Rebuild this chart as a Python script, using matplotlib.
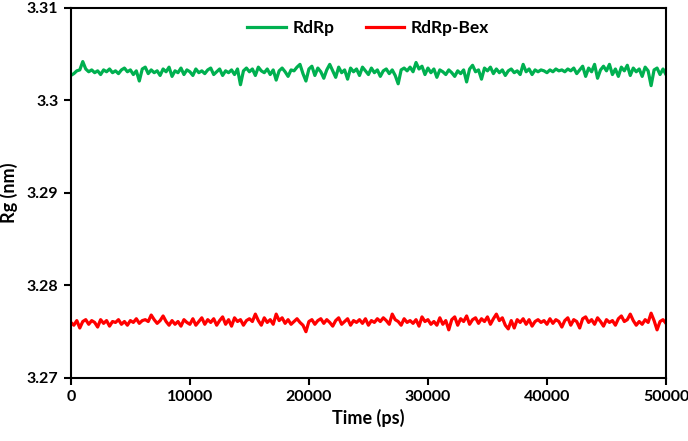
import numpy as np
import matplotlib.pyplot as plt

plt.rcParams['font.family'] = ['Lato', 'DejaVu Sans']

# time axis (ps), one frame every 250 ps
time_ps = np.arange(0, 50001, 250)

# radius of gyration (nm)
rg_rdrp = [
    3.3027, 3.3029, 3.3032, 3.3033, 3.3042, 3.3034, 3.3031, 3.3033, 3.3030, 3.3032,
    3.3028, 3.3033, 3.3031, 3.3034, 3.3030, 3.3032, 3.3029, 3.3033, 3.3035, 3.3031,
    3.3033, 3.3028, 3.3032, 3.3021, 3.3034, 3.3036, 3.3029, 3.3033, 3.3030, 3.3032,
    3.3027, 3.3034, 3.3031, 3.3036, 3.3026, 3.3032, 3.3030, 3.3035, 3.3028, 3.3033,
    3.3031, 3.3027, 3.3034, 3.3030, 3.3032, 3.3029, 3.3033, 3.3035, 3.3028, 3.3031,
    3.3034, 3.3027, 3.3032, 3.3030, 3.3033, 3.3028, 3.3034, 3.3017, 3.3032, 3.3035,
    3.3031, 3.3034, 3.3027, 3.3036, 3.3032, 3.3030, 3.3034, 3.3028, 3.3033, 3.3022,
    3.3032, 3.3035, 3.3031, 3.3026, 3.3033, 3.3032, 3.3036, 3.3039, 3.3029, 3.3021,
    3.3034, 3.3037, 3.3027, 3.3035, 3.3031, 3.3024, 3.3033, 3.3039, 3.3032, 3.3025,
    3.3036, 3.3030, 3.3033, 3.3023, 3.3035, 3.3031, 3.3034, 3.3027, 3.3036, 3.3032,
    3.3028, 3.3035, 3.3030, 3.3033, 3.3026, 3.3032, 3.3034, 3.3029, 3.3033, 3.3027,
    3.3018, 3.3033, 3.3035, 3.3032, 3.3036, 3.3031, 3.3041, 3.3034, 3.3037, 3.3028,
    3.3035, 3.3030, 3.3034, 3.3025, 3.3033, 3.3031, 3.3028, 3.3033, 3.3030, 3.3026,
    3.3032, 3.3029, 3.3033, 3.3020, 3.3034, 3.3038, 3.3031, 3.3033, 3.3023, 3.3035,
    3.3032, 3.3036, 3.3029, 3.3034, 3.3030, 3.3033, 3.3027, 3.3032, 3.3034, 3.3030,
    3.3032, 3.3028, 3.3039, 3.3031, 3.3034, 3.3028, 3.3033, 3.3031, 3.3033, 3.3032,
    3.3030, 3.3033, 3.3031, 3.3034, 3.3032, 3.3033, 3.3031, 3.3034, 3.3032, 3.3035,
    3.3029, 3.3033, 3.3037, 3.3026, 3.3035, 3.3031, 3.3039, 3.3024, 3.3033, 3.3037,
    3.3032, 3.3039, 3.3028, 3.3034, 3.3026, 3.3036, 3.3032, 3.3038, 3.3027, 3.3035,
    3.3031, 3.3034, 3.3026, 3.3036, 3.3032, 3.3016, 3.3033, 3.3035, 3.3028, 3.3034,
    3.3028,
]

rg_rdrp_bex = [
    3.2760, 3.2757, 3.2762, 3.2754, 3.2761, 3.2763, 3.2758, 3.2762, 3.2760, 3.2755,
    3.2763, 3.2759, 3.2762, 3.2756, 3.2761, 3.2760, 3.2763, 3.2758, 3.2761, 3.2757,
    3.2762, 3.2760, 3.2764, 3.2759, 3.2762, 3.2763, 3.2761, 3.2768, 3.2763, 3.2759,
    3.2762, 3.2767, 3.2761, 3.2757, 3.2762, 3.2758, 3.2761, 3.2756, 3.2763, 3.2760,
    3.2758, 3.2764, 3.2757, 3.2761, 3.2765, 3.2758, 3.2763, 3.2760, 3.2764, 3.2757,
    3.2762, 3.2766, 3.2758, 3.2763, 3.2756, 3.2765, 3.2761, 3.2763, 3.2757, 3.2762,
    3.2764, 3.2761, 3.2769, 3.2762, 3.2757, 3.2765, 3.2760, 3.2763, 3.2758, 3.2769,
    3.2762, 3.2765, 3.2759, 3.2763, 3.2758, 3.2761, 3.2764, 3.2760, 3.2757, 3.2750,
    3.2761, 3.2763, 3.2758, 3.2762, 3.2764, 3.2759, 3.2763, 3.2760, 3.2756, 3.2762,
    3.2765, 3.2758, 3.2761, 3.2764, 3.2757, 3.2762, 3.2760, 3.2763, 3.2759, 3.2764,
    3.2757, 3.2762, 3.2760, 3.2764, 3.2761, 3.2765, 3.2762, 3.2758, 3.2769, 3.2763,
    3.2761, 3.2757, 3.2764, 3.2760, 3.2762, 3.2759, 3.2763, 3.2756, 3.2766, 3.2761,
    3.2763, 3.2758, 3.2761, 3.2757, 3.2765, 3.2758, 3.2762, 3.2752, 3.2763, 3.2766,
    3.2757, 3.2764, 3.2761, 3.2767, 3.2758, 3.2763, 3.2765, 3.2759, 3.2764, 3.2761,
    3.2766, 3.2758, 3.2764, 3.2769, 3.2762, 3.2765, 3.2757, 3.2753, 3.2762, 3.2754,
    3.2763, 3.2760, 3.2764, 3.2758, 3.2763, 3.2756, 3.2761, 3.2763, 3.2760, 3.2762,
    3.2758, 3.2764, 3.2759, 3.2763, 3.2761, 3.2755, 3.2762, 3.2765, 3.2757, 3.2763,
    3.2761, 3.2754, 3.2764, 3.2766, 3.2760, 3.2763, 3.2758, 3.2765, 3.2761, 3.2756,
    3.2763, 3.2760, 3.2762, 3.2757, 3.2764, 3.2767, 3.2761, 3.2763, 3.2769, 3.2762,
    3.2757, 3.2761, 3.2758, 3.2763, 3.2760, 3.2770, 3.2762, 3.2752, 3.2761, 3.2763,
    3.2759,
]

x_ticks = [0, 10000, 20000, 30000, 40000, 50000]
y_ticks = [3.27, 3.28, 3.29, 3.30, 3.31]
y_tick_labels = ['3.27', '3.28', '3.29', '3.3', '3.31']

fig = plt.figure(figsize=(6.88, 4.41), dpi=100)
ax = fig.add_axes([0.103, 0.143, 0.865, 0.839])

ax.plot(time_ps, rg_rdrp, color='#00B050', lw=2.3, label='RdRp')
ax.plot(time_ps, rg_rdrp_bex, color='#FF0000', lw=2.3, label='RdRp-Bex')

ax.set_xlim(0, 50000)
ax.set_ylim(3.27, 3.31)
ax.set_xticks(x_ticks)
ax.set_xticklabels([str(t) for t in x_ticks])
ax.set_yticks(y_ticks)
ax.set_yticklabels(y_tick_labels)

for s in ax.spines.values():
    s.set_linewidth(1.5)
    s.set_color('black')
ax.tick_params(direction='out', length=5, width=1.5, labelsize=11.5, pad=4)
for lab in ax.get_xticklabels() + ax.get_yticklabels():
    lab.set_fontweight('bold')

ax.set_xlabel('Time (ps)', fontsize=13, fontweight='bold', labelpad=3)
ax.set_ylabel('Rg (nm)', fontsize=13, fontweight='bold', labelpad=6)

ax.legend(loc='upper center', bbox_to_anchor=(0.5, 1.01), ncol=2, frameon=False,
          prop={'size': 12.5, 'weight': 'bold'}, handlelength=2.2, columnspacing=1.8,
          handletextpad=0.4)

fig.savefig('out.png', dpi=100)
